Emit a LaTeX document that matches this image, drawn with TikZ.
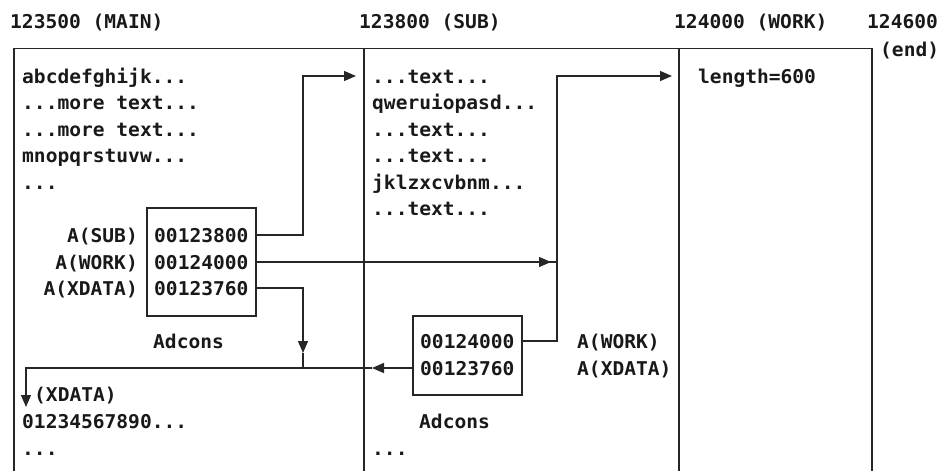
\documentclass[tikz,border=0pt]{standalone}
\usepackage{fontspec}
\setmonofont[FakeStretch=1.03]{DejaVu Sans Mono}
\usetikzlibrary{arrows.meta}
\begin{document}
\begin{tikzpicture}[x=1pt,y=-1pt,
  txt/.style={anchor=base west,inner sep=0pt,font=\ttfamily\bfseries\fontsize{19}{19}\selectfont,text=black!90},
  rtxt/.style={txt,anchor=base east},
  ln/.style={line width=1.3pt,draw=black!85},
  arr/.style={ln,-{Triangle[length=12pt,width=10pt]}},
  adbox/.style={ln,draw,inner sep=0pt}]
\useasboundingbox (0,0) rectangle (941,471);
% frame
\coordinate (tl) at (14,48.5);
\coordinate (tr) at (872,48.5);
\coordinate (bl) at (14,471);
\coordinate (sT) at (364,48.5);
\coordinate (sB) at (364,471);
\coordinate (wT) at (679,48.5);
\coordinate (wB) at (679,471);
\coordinate (br) at (872,471);
\draw[ln] (bl) -- (tl) -- (tr) -- (br);
\draw[ln] (sT) -- (sB);
\draw[ln] (wT) -- (wB);
% headers
\node[txt] (h1) at (10,28) {123500 (MAIN)};
\node[txt] (h2) at (359,28) {123800 (SUB)};
\node[txt] (h3) at (674,28) {124000 (WORK)};
\node[txt] (h4) at (867,28) {124600};
\node[txt] (h5) at (880,56) {(end)};
% MAIN column text
\node[txt] (m1) at (22,83) {abcdefghijk...};
\node[txt] (m2) at (22,109.6) {...more text...};
\node[txt] (m3) at (22,136.1) {...more text...};
\node[txt] (m4) at (22,162.7) {mnopqrstuvw...};
\node[txt] (m5) at (22,189.3) {...};
\node[rtxt] (l1) at (138,242.4) {A(SUB)};
\node[rtxt] (l2) at (138,269) {A(WORK)};
\node[rtxt] (l3) at (138,295.6) {A(XDATA)};
\node[adbox,minimum width=109pt,minimum height=108pt] (box1) at (201.5,262) {};
\node[txt] (v1) at (154,242.4) {00123800};
\node[txt] (v2) at (154,269) {00124000};
\node[txt] (v3) at (154,295.6) {00123760};
\node[txt] (ad1) at (153,348.7) {Adcons};
\node[txt] (x1) at (34,401.9) {(XDATA)};
\node[txt] (x2) at (22,428.4) {01234567890...};
\node[txt] (x3) at (22,455) {...};
% SUB column text
\node[txt] (s1) at (372,83) {...text...};
\node[txt] (s2) at (372,109.6) {qweruiopasd...};
\node[txt] (s3) at (372,136.1) {...text...};
\node[txt] (s4) at (372,162.7) {...text...};
\node[txt] (s5) at (372,189.3) {jklzxcvbnm...};
\node[txt] (s6) at (372,215.9) {...text...};
\node[adbox,minimum width=109pt,minimum height=79pt] (box2) at (467.5,355.5) {};
\node[txt] (w1) at (420,348.7) {00124000};
\node[txt] (w2) at (420,375.3) {00123760};
\node[txt] (q1) at (577,348.7) {A(WORK)};
\node[txt] (q2) at (577,375.3) {A(XDATA)};
\node[txt] (ad2) at (419,428.4) {Adcons};
\node[txt] (s7) at (372,455) {...};
% WORK column
\node[txt] (k1) at (698,83) {length=600};
% connectors
\coordinate (b1r1) at (256,235);
\coordinate (b1r2) at (256,262);
\coordinate (b1r3) at (256,288);
\coordinate (c1a) at (303,235);
\coordinate (c1b) at (303,76);
\coordinate (c1t) at (356,76);
\draw[arr] (b1r1) -- (c1a) -- (c1b) -- (c1t);
% A(WORK) main -> vertical bus
\coordinate (c2e) at (557,262);
\coordinate (c2t) at (551,262);
\draw[ln] (b1r2) -- (c2e);
\draw[arr] (530,262) -- (c2t);
% bus from box2 to WORK
\coordinate (b2r1) at (522,341);
\coordinate (c3a) at (557,341);
\coordinate (c3b) at (557,76);
\coordinate (c3t) at (672,76);
\draw[arr] (b2r1) -- (c3a) -- (c3b) -- (c3t);
% A(XDATA) main
\coordinate (c4a) at (303,288);
\coordinate (c4t) at (303,353);
\coordinate (c4j) at (303,368);
\draw[arr] (b1r3) -- (c4a) -- (c4t);
\draw[ln] (c4t) -- (c4j);
% A(XDATA) box2 -> XDATA
\coordinate (b2r2) at (413,368);
\coordinate (c5t) at (372,368);
\coordinate (c5a) at (26,368);
\coordinate (c5b) at (26,407);
\draw[arr] (b2r2) -- (c5t);
\draw[arr] (c5t) -- (c5a) -- (c5b);
\end{tikzpicture}
\end{document}
